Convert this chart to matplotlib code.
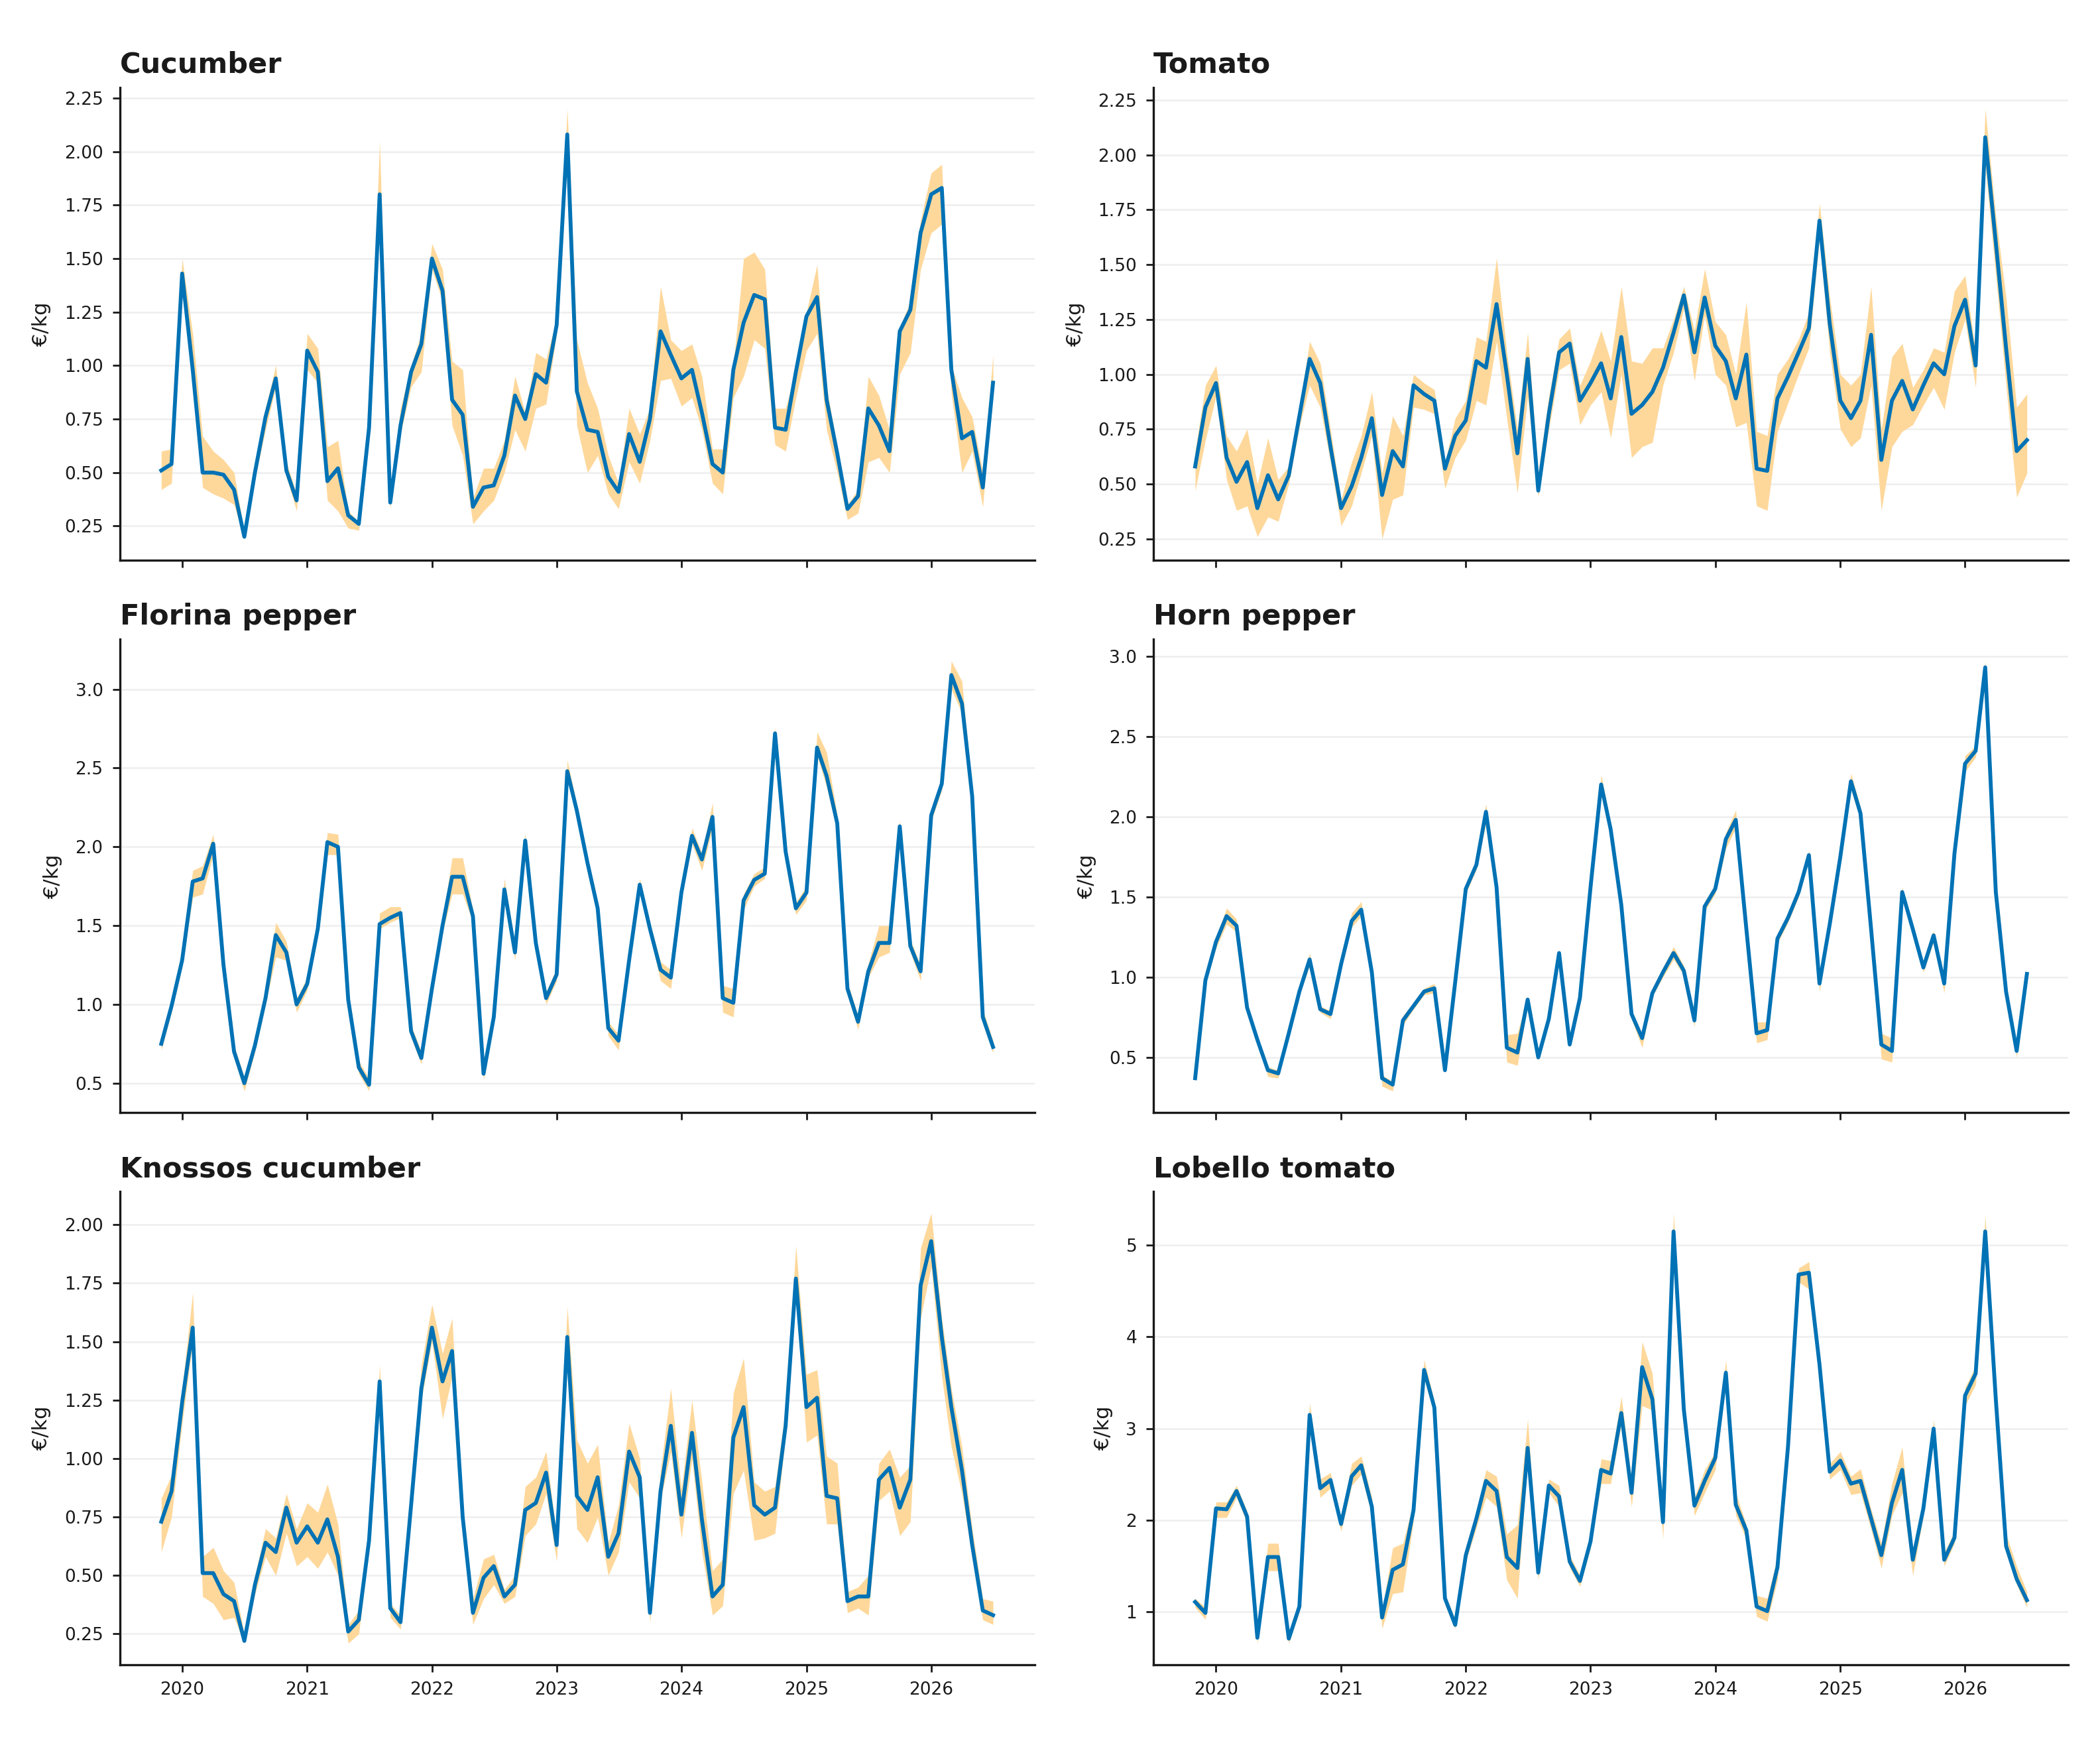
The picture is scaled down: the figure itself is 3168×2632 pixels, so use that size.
import numpy as np
import pandas as pd
import matplotlib
matplotlib.use("Agg")
import matplotlib.pyplot as plt
import matplotlib.dates as mdates
from matplotlib.ticker import MultipleLocator

# monthly series, Nov 2019 .. Jul 2026
months = pd.date_range("2019-11-01", periods=81, freq="MS")

cucumber = [0.51,0.54,1.43,0.98,0.50,0.50,0.49,0.42,0.20,0.50,
            0.76,0.94,0.51,0.37,1.07,0.97,0.46,0.52,0.30,0.26,
            0.71,1.80,0.36,0.72,0.97,1.10,1.50,1.35,0.84,0.77,
            0.34,0.43,0.44,0.58,0.86,0.75,0.96,0.92,1.19,2.08,
            0.88,0.70,0.69,0.48,0.41,0.68,0.55,0.75,1.16,1.05,
            0.94,0.98,0.78,0.54,0.50,0.98,1.20,1.33,1.31,0.71,
            0.70,0.97,1.23,1.32,0.84,0.59,0.33,0.39,0.80,0.72,
            0.60,1.16,1.26,1.62,1.80,1.83,0.98,0.66,0.69,0.43,
            0.92]
cucumber_lo = [0.42,0.45,1.40,0.95,0.43,0.40,0.38,0.35,0.19,0.47,
               0.70,0.90,0.48,0.32,0.98,0.92,0.37,0.32,0.24,0.23,
               0.68,1.75,0.33,0.68,0.90,0.97,1.45,1.30,0.72,0.58,
               0.26,0.32,0.37,0.50,0.70,0.60,0.80,0.82,1.15,2.00,
               0.72,0.50,0.58,0.40,0.33,0.55,0.45,0.65,0.93,0.94,
               0.81,0.85,0.70,0.45,0.40,0.85,0.95,1.12,1.08,0.63,
               0.60,0.85,1.07,1.15,0.70,0.50,0.28,0.31,0.55,0.57,
               0.50,0.96,1.06,1.45,1.62,1.66,0.87,0.50,0.60,0.34,
               0.88]
cucumber_hi = [0.60,0.61,1.50,1.15,0.67,0.60,0.56,0.50,0.22,0.52,
               0.80,1.00,0.55,0.40,1.15,1.08,0.62,0.65,0.32,0.27,
               0.75,2.05,0.40,0.80,1.00,1.15,1.57,1.45,1.02,0.98,
               0.38,0.52,0.52,0.65,0.95,0.78,1.06,1.03,1.22,2.20,
               1.12,0.92,0.80,0.58,0.45,0.80,0.68,0.80,1.37,1.12,
               1.07,1.10,0.95,0.61,0.61,1.00,1.50,1.53,1.45,0.80,
               0.80,0.98,1.25,1.47,0.90,0.62,0.35,0.42,0.95,0.86,
               0.70,1.18,1.30,1.68,1.90,1.94,1.00,0.85,0.76,0.50,
               1.05]

tomato = [0.58,0.85,0.96,0.62,0.51,0.60,0.39,0.54,0.43,0.54,
          0.81,1.07,0.96,0.67,0.39,0.49,0.62,0.80,0.45,0.65,
          0.58,0.95,0.91,0.88,0.57,0.72,0.79,1.06,1.03,1.32,
          1.00,0.64,1.07,0.47,0.82,1.10,1.14,0.88,0.96,1.05,
          0.89,1.17,0.82,0.86,0.92,1.03,1.19,1.36,1.10,1.35,
          1.13,1.06,0.89,1.09,0.57,0.56,0.89,0.99,1.10,1.21,
          1.70,1.23,0.88,0.80,0.88,1.18,0.61,0.88,0.97,0.84,
          0.95,1.05,1.00,1.22,1.34,1.04,2.08,1.60,1.12,0.65,
          0.70]
tomato_lo = [0.47,0.70,0.90,0.52,0.38,0.40,0.26,0.35,0.33,0.50,
             0.76,0.95,0.85,0.60,0.31,0.40,0.55,0.72,0.25,0.43,
             0.45,0.85,0.84,0.82,0.48,0.62,0.70,0.88,0.86,1.15,
             0.80,0.46,0.90,0.44,0.75,1.02,1.05,0.77,0.86,0.92,
             0.71,1.00,0.62,0.67,0.69,0.95,1.10,1.30,0.97,1.27,
             1.00,0.95,0.76,0.78,0.40,0.38,0.74,0.87,1.00,1.12,
             1.62,1.10,0.75,0.67,0.71,0.95,0.38,0.67,0.74,0.77,
             0.86,0.94,0.84,1.10,1.25,0.94,1.95,1.45,0.95,0.44,
             0.55]
tomato_hi = [0.65,0.95,1.04,0.72,0.65,0.75,0.50,0.71,0.52,0.58,
             0.85,1.15,1.05,0.75,0.43,0.60,0.72,0.92,0.55,0.81,
             0.72,1.00,0.96,0.93,0.60,0.80,0.88,1.17,1.15,1.53,
             1.10,0.75,1.19,0.55,0.90,1.16,1.21,0.95,1.06,1.20,
             1.06,1.40,1.06,1.05,1.12,1.12,1.25,1.40,1.20,1.48,
             1.24,1.18,1.00,1.33,0.74,0.72,1.00,1.07,1.16,1.28,
             1.78,1.35,1.00,0.95,1.00,1.40,0.75,1.08,1.14,0.94,
             1.02,1.12,1.10,1.38,1.45,1.10,2.21,1.72,1.35,0.85,
             0.91]

florina = [0.75,0.99,1.28,1.78,1.80,2.02,1.25,0.70,0.50,0.74,
           1.04,1.44,1.33,1.00,1.13,1.48,2.03,2.00,1.03,0.60,
           0.49,1.51,1.55,1.58,0.83,0.66,1.10,1.50,1.81,1.81,
           1.56,0.56,0.92,1.73,1.33,2.04,1.39,1.04,1.19,2.48,
           2.23,1.90,1.61,0.85,0.77,1.28,1.76,1.48,1.22,1.17,
           1.71,2.07,1.92,2.19,1.04,1.01,1.66,1.79,1.83,2.72,
           1.97,1.61,1.71,2.63,2.45,2.15,1.10,0.89,1.21,1.39,
           1.39,2.13,1.37,1.21,2.20,2.40,3.09,2.91,2.32,0.92,
           0.73]
florina_lo = [0.71,0.95,1.24,1.68,1.70,1.95,1.20,0.66,0.45,0.70,
              1.00,1.30,1.28,0.95,1.09,1.44,1.95,1.95,0.99,0.56,
              0.45,1.48,1.52,1.55,0.79,0.62,1.06,1.46,1.70,1.70,
              1.52,0.52,0.88,1.70,1.28,2.00,1.35,1.00,1.15,2.44,
              2.19,1.86,1.57,0.80,0.71,1.24,1.72,1.44,1.15,1.10,
              1.67,2.02,1.85,2.12,0.95,0.92,1.60,1.75,1.80,2.68,
              1.93,1.57,1.66,2.58,2.38,2.10,1.06,0.84,1.17,1.30,
              1.33,2.09,1.33,1.15,2.16,2.36,3.00,2.85,2.27,0.88,
              0.69]
florina_hi = [0.79,1.03,1.32,1.85,1.88,2.08,1.30,0.74,0.54,0.78,
              1.08,1.52,1.40,1.04,1.17,1.52,2.09,2.08,1.07,0.64,
              0.53,1.58,1.62,1.62,0.87,0.70,1.14,1.54,1.93,1.93,
              1.60,0.60,0.96,1.80,1.37,2.09,1.43,1.08,1.23,2.55,
              2.27,1.94,1.65,0.89,0.81,1.32,1.80,1.52,1.27,1.22,
              1.75,2.12,1.96,2.28,1.12,1.10,1.70,1.83,1.87,2.76,
              2.01,1.65,1.75,2.73,2.60,2.20,1.14,0.93,1.26,1.50,
              1.50,2.17,1.41,1.25,2.24,2.44,3.18,3.05,2.36,0.97,
              0.77]

horn = [0.37,0.98,1.22,1.38,1.32,0.81,0.61,0.42,0.40,0.65,
        0.91,1.11,0.80,0.77,1.08,1.35,1.42,1.03,0.37,0.33,
        0.73,0.82,0.91,0.93,0.42,0.97,1.55,1.70,2.03,1.56,
        0.56,0.53,0.86,0.50,0.74,1.15,0.58,0.87,1.56,2.20,
        1.92,1.45,0.77,0.62,0.90,1.03,1.15,1.04,0.73,1.44,
        1.55,1.86,1.98,1.30,0.65,0.67,1.24,1.37,1.53,1.76,
        0.96,1.33,1.75,2.22,2.02,1.30,0.58,0.54,1.53,1.30,
        1.06,1.26,0.96,1.77,2.33,2.41,2.93,1.53,0.91,0.54,
        1.02]
horn_lo = [0.35,0.96,1.18,1.33,1.28,0.79,0.59,0.38,0.37,0.63,
           0.89,1.07,0.78,0.74,1.05,1.31,1.38,1.00,0.32,0.29,
           0.70,0.80,0.89,0.90,0.40,0.95,1.52,1.67,1.96,1.53,
           0.47,0.45,0.83,0.48,0.72,1.12,0.56,0.85,1.53,2.14,
           1.88,1.42,0.74,0.56,0.88,1.00,1.11,1.01,0.69,1.41,
           1.52,1.80,1.93,1.27,0.59,0.61,1.21,1.34,1.50,1.73,
           0.91,1.30,1.72,2.17,1.98,1.27,0.49,0.47,1.50,1.27,
           1.03,1.22,0.90,1.74,2.28,2.37,2.88,1.50,0.89,0.50,
           1.00]
horn_hi = [0.39,1.00,1.25,1.43,1.36,0.83,0.63,0.44,0.42,0.67,
           0.93,1.15,0.82,0.79,1.10,1.40,1.47,1.05,0.39,0.35,
           0.76,0.84,0.93,0.96,0.44,0.99,1.58,1.73,2.08,1.59,
           0.64,0.65,0.88,0.52,0.76,1.17,0.60,0.89,1.59,2.26,
           1.96,1.48,0.79,0.64,0.92,1.06,1.19,1.07,0.76,1.47,
           1.58,1.90,2.04,1.33,0.72,0.72,1.27,1.40,1.56,1.79,
           0.98,1.36,1.78,2.27,2.06,1.33,0.65,0.62,1.56,1.33,
           1.09,1.29,0.98,1.80,2.38,2.44,2.97,1.56,0.93,0.56,
           1.04]

knossos = [0.73,0.86,1.24,1.56,0.51,0.51,0.42,0.39,0.22,0.46,
           0.64,0.60,0.79,0.64,0.71,0.64,0.74,0.58,0.26,0.31,
           0.65,1.33,0.36,0.30,0.80,1.30,1.56,1.33,1.46,0.75,
           0.34,0.49,0.54,0.41,0.46,0.78,0.81,0.94,0.63,1.52,
           0.84,0.78,0.92,0.58,0.68,1.03,0.92,0.34,0.86,1.14,
           0.76,1.11,0.74,0.41,0.46,1.09,1.22,0.80,0.76,0.79,
           1.14,1.77,1.22,1.26,0.84,0.83,0.39,0.41,0.41,0.91,
           0.96,0.79,0.91,1.74,1.93,1.52,1.22,0.95,0.63,0.35,
           0.33]
knossos_lo = [0.60,0.75,1.15,1.50,0.41,0.38,0.31,0.32,0.21,0.42,
              0.58,0.50,0.68,0.54,0.58,0.53,0.60,0.50,0.21,0.25,
              0.62,1.28,0.32,0.27,0.75,1.25,1.50,1.17,1.35,0.70,
              0.29,0.40,0.46,0.38,0.41,0.67,0.72,0.85,0.56,1.45,
              0.70,0.64,0.75,0.50,0.60,0.90,0.83,0.30,0.82,1.03,
              0.66,1.00,0.60,0.33,0.37,0.85,0.95,0.65,0.66,0.68,
              1.10,1.72,1.07,1.10,0.72,0.72,0.34,0.36,0.33,0.82,
              0.86,0.67,0.73,1.60,1.82,1.35,1.05,0.85,0.58,0.31,
              0.29]
knossos_hi = [0.83,0.93,1.30,1.71,0.58,0.62,0.52,0.47,0.25,0.50,
              0.70,0.66,0.85,0.70,0.81,0.77,0.89,0.72,0.29,0.35,
              0.68,1.40,0.38,0.33,0.85,1.40,1.66,1.45,1.60,0.80,
              0.40,0.57,0.59,0.44,0.50,0.88,0.92,1.03,0.67,1.65,
              1.08,0.98,1.06,0.64,0.80,1.15,1.00,0.38,0.95,1.30,
              0.87,1.25,0.90,0.52,0.57,1.28,1.43,0.90,0.86,0.88,
              1.22,1.91,1.36,1.38,1.01,0.98,0.43,0.45,0.50,0.98,
              1.04,0.92,0.97,1.90,2.05,1.60,1.30,1.05,0.70,0.40,
              0.39]

lobello = [1.11,0.99,2.13,2.12,2.32,2.04,0.72,1.60,1.60,0.71,
           1.06,3.15,2.35,2.44,1.96,2.48,2.60,2.15,0.94,1.46,
           1.52,2.11,3.64,3.23,1.15,0.86,1.62,2.02,2.43,2.32,
           1.60,1.48,2.79,1.43,2.38,2.26,1.55,1.34,1.77,2.55,
           2.51,3.17,2.30,3.67,3.32,1.98,5.15,3.21,2.16,2.43,
           2.68,3.61,2.17,1.89,1.06,1.01,1.49,2.81,4.68,4.70,
           3.70,2.53,2.65,2.40,2.43,2.02,1.62,2.19,2.55,1.57,
           2.13,3.00,1.57,1.81,3.36,3.60,5.15,3.32,1.72,1.36,
           1.13]
lobello_lo = [1.05,0.92,2.03,2.03,2.25,1.97,0.66,1.45,1.45,0.66,
              1.00,3.00,2.25,2.35,1.88,2.38,2.50,2.05,0.82,1.20,
              1.22,2.00,3.55,3.15,1.08,0.82,1.55,1.92,2.25,2.15,
              1.35,1.15,2.65,1.35,2.30,2.15,1.48,1.28,1.70,2.40,
              2.40,3.05,2.15,3.25,3.20,1.80,5.00,3.10,2.05,2.30,
              2.55,3.50,2.05,1.80,0.95,0.90,1.35,2.65,4.60,4.52,
              3.60,2.45,2.55,2.28,2.30,1.90,1.48,2.05,2.30,1.40,
              2.05,2.90,1.50,1.75,3.25,3.48,4.98,3.20,1.65,1.30,
              1.05]
lobello_hi = [1.15,1.05,2.20,2.20,2.38,2.10,0.78,1.75,1.75,0.76,
              1.12,3.28,2.45,2.52,2.03,2.62,2.70,2.25,1.02,1.70,
              1.75,2.20,3.75,3.30,1.20,0.92,1.70,2.10,2.55,2.48,
              1.85,1.95,3.10,1.50,2.45,2.38,1.62,1.40,1.85,2.67,
              2.65,3.35,2.45,3.95,3.60,2.10,5.35,3.35,2.25,2.55,
              2.75,3.75,2.30,1.95,1.18,1.15,1.60,2.95,4.75,4.82,
              3.80,2.62,2.75,2.48,2.56,2.12,1.75,2.40,2.80,1.65,
              2.22,3.10,1.65,1.88,3.45,3.68,5.32,3.45,1.85,1.50,
              1.22]

panels = [
    ("Cucumber", cucumber, cucumber_lo, cucumber_hi, 0.25),
    ("Tomato", tomato, tomato_lo, tomato_hi, 0.25),
    ("Florina pepper", florina, florina_lo, florina_hi, 0.5),
    ("Horn pepper", horn, horn_lo, horn_hi, 0.5),
    ("Knossos cucumber", knossos, knossos_lo, knossos_hi, 0.25),
    ("Lobello tomato", lobello, lobello_lo, lobello_hi, 1),
]

line_col = "#0072b5"
band_col = "#fed89b"
ink = "#1a1a1a"

plt.rcParams["font.family"] = ["DejaVu Sans"]

fig, axes = plt.subplots(3, 2, figsize=(15.84, 13.16), dpi=200, sharex=True)
fig.subplots_adjust(left=0.057, right=0.985, bottom=0.046, top=0.950,
                    wspace=0.13, hspace=0.167)

for ax, (name, mid, lo, hi, step) in zip(axes.flat, panels):
    ax.fill_between(months, lo, hi, color=band_col, linewidth=0)
    ax.plot(months, mid, color=line_col, lw=2.1)
    ax.set_title(name, loc="left", fontsize=15.5, fontweight="bold", color=ink, pad=8)
    ax.set_ylabel("€/kg", fontsize=11, color=ink, labelpad=7)
    ax.yaxis.set_major_locator(MultipleLocator(step))
    ax.yaxis.grid(True, color="#eeeeee", lw=0.9)
    ax.set_axisbelow(True)
    for s in ("top", "right"):
        ax.spines[s].set_visible(False)
    for s in ("left", "bottom"):
        ax.spines[s].set_linewidth(1.2)
        ax.spines[s].set_color(ink)
    ax.tick_params(labelsize=9.5, colors=ink, length=4, width=1.0, pad=5)

axes[0, 0].xaxis.set_major_locator(mdates.YearLocator())
axes[0, 0].xaxis.set_major_formatter(mdates.DateFormatter("%Y"))

fig.savefig("out.png", dpi=200)
